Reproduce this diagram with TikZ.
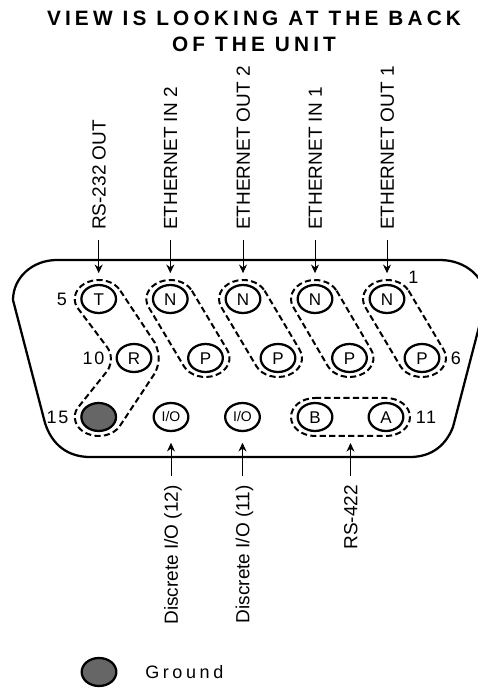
\documentclass[tikz,border=0pt]{standalone}
\usepackage{fontspec}
\setmainfont{Liberation Sans}
\newfontfamily\spaced[LetterSpace=20]{Liberation Sans}
\newfontfamily\spacednum[LetterSpace=10]{Liberation Sans}
\usetikzlibrary{shapes.geometric,arrows.meta,calc}
\tikzset{
  pin/.style={draw=black,ellipse,line width=1.7pt,minimum width=26pt,minimum height=21pt,inner sep=0pt,font=\fontsize{12.75}{14}\selectfont,text height=9.1pt,text depth=0pt},
  iopin/.style={pin,font=\fontsize{10.5}{12}\selectfont,text height=7.5pt},
  gnd/.style={pin,fill=black!60},
  dashline/.style={line width=1.5pt,dash pattern=on 4.6pt off 2.5pt},
  shell/.style={line width=1.7pt},
  sig/.style={rotate=90,inner sep=0pt,font=\fontsize{14.25}{16}\selectfont,text height=10.2pt,text depth=0pt},
  pinnum/.style={inner sep=0pt,font=\spacednum\fontsize{13.5}{15}\selectfont},
  legendtext/.style={inner sep=0pt,font=\spaced\fontsize{13.5}{15}\selectfont},
  titletext/.style={inner sep=0pt,anchor=base,font=\spaced\bfseries\fontsize{15.6}{17}\selectfont},
  feed/.style={line width=0.75pt,-{Stealth[length=6.5pt,width=6pt]}},
}
\newcommand{\stadium}[3]{%
  \draw[dashline] ([shift={(#3:18pt and 14.25pt)}]#1.center)
    -- ([shift={(#3:18pt and 14.25pt)}]#2.center)
    arc[start angle=#3,delta angle=-180,x radius=18pt,y radius=14.25pt]
    -- ([shift={(#3+180:18pt and 14.25pt)}]#1.center)
    arc[start angle=#3+180,delta angle=-180,x radius=18pt,y radius=14.25pt];}
\begin{document}
\begin{tikzpicture}[x=0.75pt,y=0.75pt]
\useasboundingbox (0,0) rectangle (478,690);
% shell
\draw[shell] (57,430) .. controls (32,430) and (13,412) .. (13,390)
  -- (45,267) .. controls (52,245) and (68,233) .. (90,233)
  -- (410,233) .. controls (432,233) and (446,245) .. (453,263)
  -- (486,390) .. controls (486,412) and (466,430) .. (440,430) -- cycle;
% title
\node[titletext] (title1) at (254,664) {VIEW IS LOOKING AT THE BACK};
\node[titletext] (title2) at (254,638) {OF THE UNIT};
% pins
\node[pin] (T) at (98.7,391) {T};
\node[pin] (N1) at (170.3,391) {N};
\node[pin] (N2) at (243,391) {N};
\node[pin] (N3) at (315,391) {N};
\node[pin] (N4) at (387,391) {N};
\node[pin] (R) at (134,332) {R};
\node[pin] (P1) at (205.5,332) {P};
\node[pin] (P2) at (278,332) {P};
\node[pin] (P3) at (349.5,332) {P};
\node[pin] (P4) at (422,332) {P};
\node[gnd] (G) at (98.7,273) {};
\node[iopin] (IO1) at (171,273) {I/O};
\node[iopin] (IO2) at (242.5,273) {I/O};
\node[pin] (B) at (315,273) {B};
\node[pin] (A) at (386,273) {A};
% dashed outlines
\stadium{N1}{P1}{25.8}
\stadium{N2}{P2}{25.8}
\stadium{N3}{P3}{25.8}
\stadium{N4}{P4}{25.8}
\stadium{B}{A}{90}
\draw[dashline] ([shift={(25.8:18pt and 14.25pt)}]T.center) -- (155,347)
  .. controls (160,335) and (160,328) .. (155,317)
  -- ([shift={(-29:18pt and 14.25pt)}]G.center)
  arc[start angle=-29,end angle=-218,x radius=18pt,y radius=14.25pt]
  -- (108,320) .. controls (112,328) and (112,336) .. (107,343)
  -- ([shift={(205.8:18pt and 14.25pt)}]T.center)
  arc[start angle=205.8,end angle=25.8,x radius=18pt,y radius=14.25pt];
% signal labels
\node[sig,anchor=west] (L1) at (98.7,460) {RS-232 OUT};
\node[sig,anchor=west] (L2) at (170.3,460) {ETHERNET IN 2};
\node[sig,anchor=west] (L3) at (243,460) {ETHERNET OUT 2};
\node[sig,anchor=west] (L4) at (315,460) {ETHERNET IN 1};
\node[sig,anchor=west] (L5) at (387,460) {ETHERNET OUT 1};
\node[sig,anchor=east] (L6) at (171,205) {Discrete I/O (12)};
\node[sig,anchor=east] (L7) at (242.5,205) {Discrete I/O (11)};
\node[sig,anchor=east] (L8) at (350.5,205) {RS-422};
\coordinate (BA) at (350.5,247);
\draw[feed,shorten <=7.5pt,shorten >=8pt] (L1.west) -- (T);
\draw[feed,shorten <=7.5pt,shorten >=8pt] (L2.west) -- (N1);
\draw[feed,shorten <=7.5pt,shorten >=8pt] (L3.west) -- (N2);
\draw[feed,shorten <=7.5pt,shorten >=8pt] (L4.west) -- (N3);
\draw[feed,shorten <=7.5pt,shorten >=8pt] (L5.west) -- (N4);
\draw[feed,shorten <=6.75pt,shorten >=8pt] (L6.east) -- (IO1);
\draw[feed,shorten <=6.75pt,shorten >=8pt] (L7.east) -- (IO2);
\draw[feed,shorten <=6.75pt] (L8.east) -- (BA);
% pin numbers
\node[pinnum] (n5) at (62,391) {5};
\node[pinnum] (n10) at (93.5,332) {10};
\node[pinnum] (n15) at (57.5,273) {15};
\node[pinnum] (n1) at (413.5,413) {1};
\node[pinnum] (n6) at (456,332) {6};
\node[pinnum] (n11) at (426,273) {11};
% legend
\node[gnd] (LG) at (99,18) {};
\node[legendtext,anchor=base west] (LT) at (145,12) {Ground};
\end{tikzpicture}
\end{document}
